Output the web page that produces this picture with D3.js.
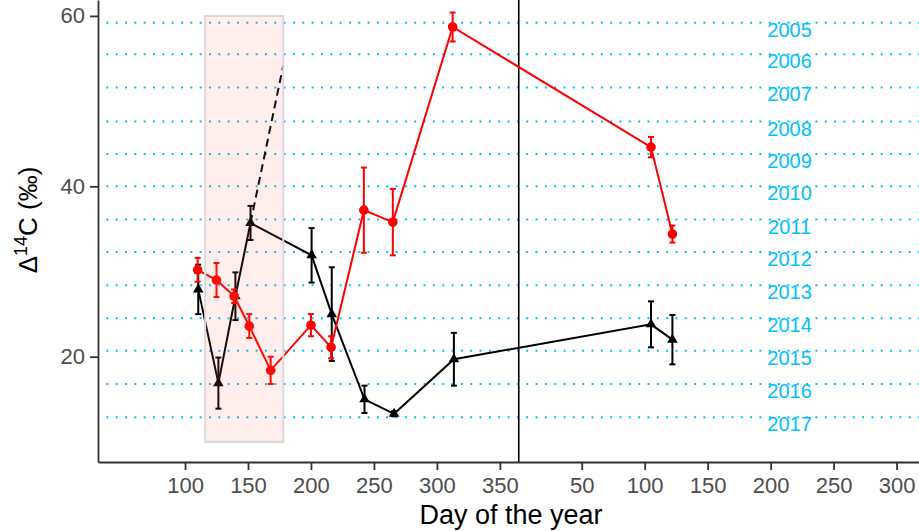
<!DOCTYPE html>
<html>
<head>
<meta charset="utf-8">
<script src="https://cdn.jsdelivr.net/npm/d3@7"></script>
<style>
  body { margin: 0; background: #fff; }
  text { font-family: "Liberation Sans", Arial, sans-serif; }
</style>
</head>
<body>
<div id="chart"></div>
<script>
// day of year on a continuous axis; second year is offset by 365
const redDay = [110, 125, 139, 151, 168, 200, 216, 242, 265, 312.5, 470, 487];
const redVal = [30.2, 29.0, 27.1, 23.6, 18.4, 23.7, 21.1, 37.2, 35.8, 58.7, 44.6, 34.4];
const redErr = [1.4, 2.0, 0.8, 1.4, 1.6, 1.3, 1.3, 5.0, 3.9, 1.7, 1.2, 1.0];

const blackDay = [110.5, 126.5, 140, 152, 200.5, 216.5, 242.5, 266, 313.5, 470, 487];
const blackVal = [27.9, 16.9, 27.1, 35.7, 31.9, 25.0, 15.0, 13.3, 19.7, 23.8, 22.0];
const blackErr = [2.9, 3.0, 2.8, 2.0, 3.2, 5.5, 1.6, 0.3, 3.1, 2.7, 2.9];

const dashedDay = [152, 178];
const dashedVal = [35.7, 54.2];

const years = [2005, 2006, 2007, 2008, 2009, 2010, 2011, 2012, 2013, 2014, 2015, 2016, 2017];
const yearVal = [59.2, 55.5, 51.6, 47.6, 43.8, 40.0, 36.1, 32.3, 28.4, 24.5, 20.7, 16.8, 12.9];

const xTicks = [100, 150, 200, 250, 300, 350, 415, 465, 515, 565, 615, 665];
const xTickLabels = ["100", "150", "200", "250", "300", "350", "50", "100", "150", "200", "250", "300"];
const yTicks = [20, 40, 60];

const shadeDay = [116, 178];
const shadeVal = [10, 60];
const yearBreak = 365;

const width = 919;
const height = 531;
const margin = { top: 0, left: 98, bottom: 69, right: 0 };
const iwidth = width - margin.left - margin.right;
const iheight = height - margin.top - margin.bottom;

const svg = d3.select("#chart").append("svg")
  .attr("width", width)
  .attr("height", height);

const g = svg.append("g")
  .attr("transform", `translate(${margin.left}, ${margin.top})`);

const x = d3.scaleLinear().domain([30.9, 682.8]).range([0, iwidth]);
const y = d3.scaleLinear().domain([7.64, 61.87]).range([iheight, 0]);

// year reference lines
g.selectAll(".yline").data(yearVal).enter().append("line")
  .attr("class", "yline")
  .attr("x1", 0).attr("x2", iwidth)
  .attr("y1", (v) => y(v)).attr("y2", (v) => y(v))
  .style("stroke", "#00BFFF")
  .style("stroke-width", 2)
  .style("stroke-dasharray", "2 7.33")
  .style("stroke-dashoffset", 1);

g.selectAll(".ylabel").data(years).enter().append("text")
  .attr("class", "ylabel")
  .attr("x", x(580))
  .attr("y", (d, i) => y(yearVal[i]) + 14)
  .attr("text-anchor", "middle")
  .style("font-size", "20px")
  .style("fill", "#00BFFF")
  .text((d) => d);

// vertical year break
g.append("line")
  .attr("x1", x(yearBreak)).attr("x2", x(yearBreak))
  .attr("y1", 0).attr("y2", iheight)
  .style("stroke", "#000")
  .style("stroke-width", 1.6);

const drawSeries = (days, vals, errs, color, shape) => {
  const pts = days.map((d, i) => ({ d: d, v: vals[i], e: errs[i] }));
  const line = d3.line().x((p) => x(p.d)).y((p) => y(p.v));
  g.append("path")
    .datum(pts)
    .attr("d", line)
    .style("fill", "none")
    .style("stroke", color)
    .style("stroke-width", 2);

  const eb = g.append("g");
  pts.forEach((p) => {
    const cx = x(p.d);
    eb.append("line")
      .attr("x1", cx).attr("x2", cx)
      .attr("y1", y(p.v - p.e)).attr("y2", y(p.v + p.e));
    eb.append("line")
      .attr("x1", cx - 3).attr("x2", cx + 3)
      .attr("y1", y(p.v - p.e)).attr("y2", y(p.v - p.e));
    eb.append("line")
      .attr("x1", cx - 3).attr("x2", cx + 3)
      .attr("y1", y(p.v + p.e)).attr("y2", y(p.v + p.e));
  });
  eb.selectAll("line").style("stroke", color).style("stroke-width", 2);

  if (shape === "circle") {
    g.selectAll(null).data(pts).enter().append("circle")
      .attr("cx", (p) => x(p.d))
      .attr("cy", (p) => y(p.v))
      .attr("r", 4.8)
      .style("fill", color);
  } else {
    g.selectAll(null).data(pts).enter().append("path")
      .attr("d", d3.symbol(d3.symbolTriangle).size(48))
      .attr("transform", (p) => `translate(${x(p.d)}, ${y(p.v)})`)
      .style("fill", color);
  }
};

// dashed extrapolation
g.append("path")
  .datum(dashedDay.map((d, i) => [d, dashedVal[i]]))
  .attr("d", d3.line().x((p) => x(p[0])).y((p) => y(p[1])))
  .style("fill", "none")
  .style("stroke", "#000")
  .style("stroke-width", 2)
  .style("stroke-dasharray", "8 5");

drawSeries(blackDay, blackVal, blackErr, "#000", "triangle");
drawSeries(redDay, redVal, redErr, "#FF0000", "circle");

// shaded window
g.append("rect")
  .attr("x", x(shadeDay[0]))
  .attr("y", y(shadeVal[1]))
  .attr("width", x(shadeDay[1]) - x(shadeDay[0]))
  .attr("height", y(shadeVal[0]) - y(shadeVal[1]))
  .style("fill", "tomato")
  .style("fill-opacity", 0.11)
  .style("stroke", "#DADADA")
  .style("stroke-width", 2);

// axes
const xAxis = g.append("g")
  .attr("transform", `translate(0, ${iheight})`)
  .call(d3.axisBottom(x).tickValues(xTicks)
    .tickFormat((d, i) => xTickLabels[i])
    .tickSize(8).tickPadding(7).tickSizeOuter(0));

const yAxis = g.append("g")
  .call(d3.axisLeft(y).tickValues(yTicks).tickSize(8).tickPadding(5).tickSizeOuter(0));

[xAxis, yAxis].forEach((a) => {
  a.select(".domain").style("stroke", "#333").style("stroke-width", 1.8);
  a.selectAll(".tick line").style("stroke", "#333").style("stroke-width", 1.8);
  a.selectAll(".tick text")
    .style("font-size", "22px")
    .style("fill", "#4D4D4D")
    .style("font-family", "'Liberation Sans', Arial, sans-serif");
});

svg.append("text")
  .attr("x", 511)
  .attr("y", 524)
  .attr("text-anchor", "middle")
  .style("font-size", "27px")
  .style("fill", "#000")
  .text("Day of the year");

const ytitle = svg.append("text")
  .attr("transform", "translate(37, 220) rotate(-90)")
  .attr("text-anchor", "middle")
  .style("font-size", "26px")
  .style("fill", "#000");
ytitle.append("tspan").text("\u0394");
ytitle.append("tspan").attr("dy", -10).style("font-size", "18px").text("14");
ytitle.append("tspan").attr("dy", 10).text("C (\u2030)");
</script>
</body>
</html>
